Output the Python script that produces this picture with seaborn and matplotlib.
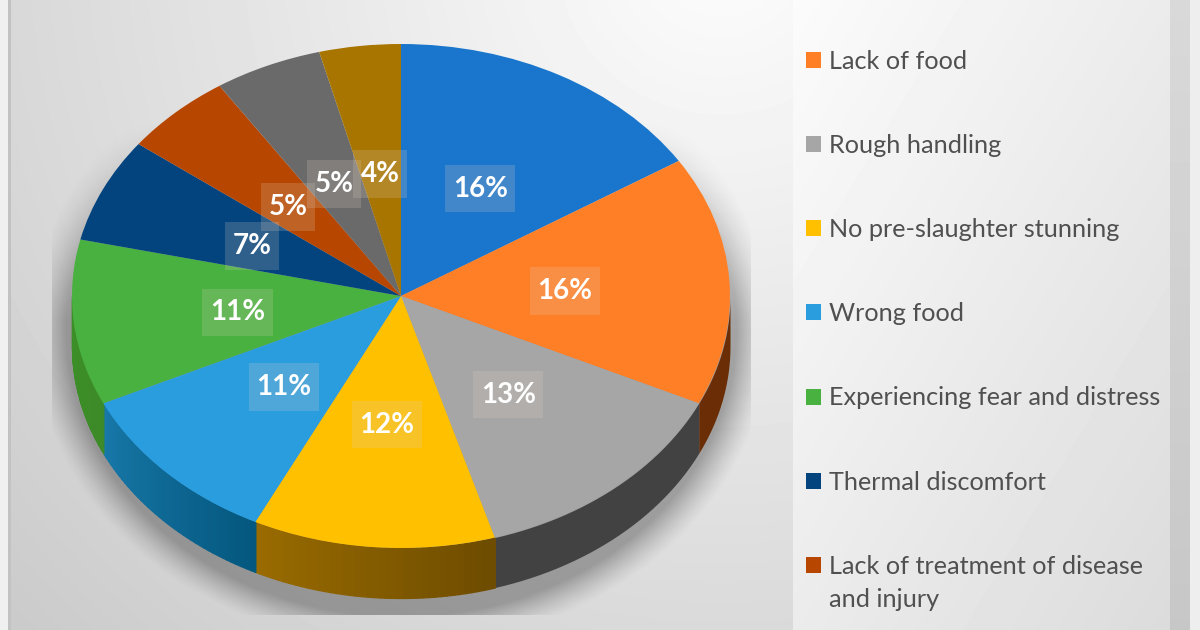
import numpy as np
import matplotlib
matplotlib.use("Agg")
import matplotlib.pyplot as plt
from matplotlib.colors import to_rgb
import seaborn as sns

# %%
# Data, legend only lists the seven entries that fit in the picture
legend_labels = ["Lack of food", "Rough handling", "No pre-slaughter stunning", "Wrong food",
                 "Experiencing fear and distress", "Thermal discomfort",
                 "Lack of treatment of disease"]
legend_wrap = "and injury"
shares = [16, 16, 13.4, 11.9, 10.7, 10.6, 6.7, 5.4, 5.3, 4]
top_colors = ["#1a76cc", "#ff7f27", "#a6a6a6", "#ffc000", "#2a9dde",
              "#48b13f", "#03447f", "#b74700", "#6a6a6a", "#a87500"]
wall_left = ["#000000", "#6a2d05", "#424242", "#996b00", "#1878a8",
             "#3c9028", "#000000", "#000000", "#000000", "#000000"]
wall_right = ["#000000", "#6a2d05", "#424242", "#6e4c00", "#04587f",
              "#3c8a28", "#000000", "#000000", "#000000", "#000000"]

# %%
# Style
W, H = 1200, 630
sns.set_theme(style="white")
plt.rcParams["font.family"] = ["Lato", "DejaVu Sans"]
palette = sns.color_palette(top_colors)

fig = plt.figure(figsize=(W / 100, H / 100), dpi=100)

# %%
# Background panels and the soft shadow under the pie
yy, xx = np.mgrid[0:H, 0:W]
bg = 0.99 - 0.19 * np.hypot(xx - 720, yy + 50) / 948
panel = (xx >= 793) & (xx < 1170)
bg[panel] = 0.985 - 0.125 * ((xx[panel] - 793) / 377 + yy[panel] / 630) / 2
bg[xx >= 1170] = 0.85 - 0.07 * (yy[xx >= 1170] / 630)
bg[xx >= 1190] = 0.93
bg[xx < 8] = 0.94
bg[(xx >= 8) & (xx < 11)] = 0.76

d = (np.hypot((xx - 401) / 335, (yy - 328) / 288) - 1) * 300
shadow = np.clip((32 - d) / 32, 0, 1) ** 1.3 * 0.3 * np.clip((yy - 120) / 200, 0, 1)
shadow[(xx < 52) | (xx > 750) | (yy > 614)] = 0
rgba = np.zeros((H, W, 4))
rgba[..., 3] = shadow

ax_bg = fig.add_axes([0, 0, 1, 1])
ax_bg.imshow(bg, cmap="gray", vmin=0, vmax=1, extent=(0, W, H, 0), aspect="auto")
ax_bg.imshow(rgba, extent=(0, W, H, 0), aspect="auto")
ax_bg.set_axis_off()

# %%
# Pie top, one data unit is the ellipse radius
rx, ry, cx, cy, depth = 329, 252, 401, 296, 50
ax = fig.add_axes([0, 0, 1, 1])
ax.patch.set_alpha(0)
wedges, _, pct_texts = ax.pie(
    shares, colors=palette, startangle=90, counterclock=False, labeldistance=None,
    autopct="%.0f%%", pctdistance=0.5, wedgeprops={"linewidth": 0, "zorder": 2},
    textprops={"color": "white", "fontsize": 20, "fontweight": "bold", "zorder": 4},
)
for t in pct_texts:
    t.set_bbox({"boxstyle": "square,pad=0.27", "mutation_aspect": 1.45,
                "facecolor": "#e0d0c0", "alpha": 0.2, "linewidth": 0})
    t.set_y(t.get_position()[1] - 3 / ry)
ax.set_aspect("auto")
ax.set_xlim(-cx / rx, (W - cx) / rx)
ax.set_ylim((cy - H) / ry, cy / ry)
ax.set_axis_off()

# %%
# Side wall, only the front half of the pie shows
edges = np.concatenate([[0], np.cumsum(shares)]) / np.sum(shares) * 360
for i in range(len(shares)):
    a0, a1 = max(edges[i], 90), min(edges[i + 1], 270)
    if a1 <= a0:
        continue
    c0, c1 = np.array(to_rgb(wall_left[i])), np.array(to_rgb(wall_right[i]))
    n = 1 if wall_left[i] == wall_right[i] else 40
    steps = np.linspace(a1, a0, n + 1)  # left to right on screen
    for j in range(n):
        ang = np.radians(np.linspace(steps[j], steps[j + 1], 30 if n == 1 else 4))
        x, y = np.sin(ang), np.cos(ang)
        ax.fill_between(x, y, y - depth / ry, color=c0 + (c1 - c0) * j / max(n - 1, 1),
                        linewidth=0.9 if n > 1 else 0, zorder=1)

# %%
# Legend, the first slice is not listed in the picture
leg = fig.legend(
    wedges[1:8], legend_labels, loc="upper left", bbox_to_anchor=(783 / W, 1 - 27 / H),
    frameon=False, fontsize=18.2, labelcolor="#505050", handlelength=0.6, handleheight=0.6,
    handletextpad=0.33, labelspacing=2.42,
)
# last entry wraps under its first line, the marker stays with the first line
fig.canvas.draw()
last = leg.get_texts()[-1].get_window_extent()
fig.text(last.x0 / W, (last.y0 - 33) / H, legend_wrap, fontsize=18.2, color="#505050", va="bottom")

fig.savefig("out.png", dpi=100)
